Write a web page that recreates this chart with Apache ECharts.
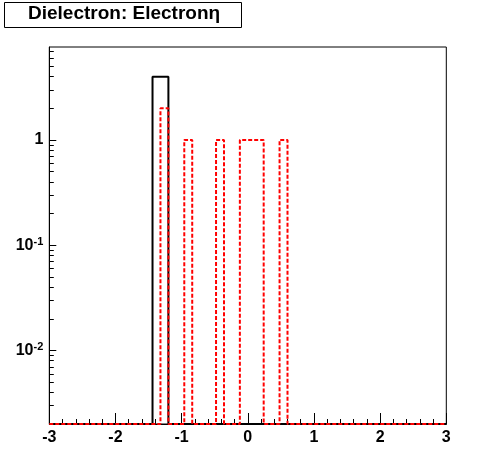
<!DOCTYPE html>
<html>
<head>
<meta charset="utf-8">
<script src="https://cdn.jsdelivr.net/npm/echarts@6/dist/echarts.min.js"></script>
<style>
html,body{margin:0;padding:0;background:#fff;}
#chart{width:496px;height:472px;}
</style>
</head>
<body>
<div id="chart"></div>
<script>
// ---- data ----
const titleText = 'Dielectron: Electronη';
const xMin = -3, xMax = 3;
const yMin = 0.002, yMax = 7.66;
const xTicks = [-3, -2, -1, 0, 1, 2, 3];
const yMajorTicks = [0.01, 0.1, 1];
const yMinorTicks = [0.002,0.003,0.004,0.005,0.006,0.007,0.008,0.009,
                     0.02,0.03,0.04,0.05,0.06,0.07,0.08,0.09,
                     0.2,0.3,0.4,0.5,0.6,0.7,0.8,0.9,
                     2,3,4,5,6,7];
// 50 bins from -3 to 3
const blackCounts = [0,0,0,0,0,0,0,0,0,0,
                     0,0,0,4,4,0,0,0,0,0,
                     0,0,0,0,0,0,0,0,0,0,
                     0,0,0,0,0,0,0,0,0,0,
                     0,0,0,0,0,0,0,0,0,0];
const redCounts   = [0,0,0,0,0,0,0,0,0,0,
                     0,0,0,0,2,0,0,1,0,0,
                     0,1,0,0,1,1,1,0,0,1,
                     0,0,0,0,0,0,0,0,0,0,
                     0,0,0,0,0,0,0,0,0,0];

function outline(counts) {
  const pts = [];
  const w = (xMax - xMin) / counts.length;
  counts.forEach((c, i) => {
    const v = c > 0 ? c : yMin;
    pts.push([xMin + i * w, v], [xMin + (i + 1) * w, v]);
  });
  return pts;
}

const FONT = 'Liberation Sans, Arial, sans-serif';
const chart = echarts.init(document.getElementById('chart'), null, {renderer: 'canvas'});

function yFmt(v) {
  const e = Math.round(Math.log10(v));
  return e === 0 ? '1' : '10{s|' + e + '}';
}

chart.setOption({
  animation: false,
  backgroundColor: '#fff',
  grid: {left: 49.3, right: 49.7, top: 47, bottom: 48, show: true,
         borderColor: '#000', borderWidth: 1, backgroundColor: 'transparent'},
  xAxis: {
    type: 'value', min: xMin, max: xMax, interval: 1,
    axisLine: {show: true, onZero: false, lineStyle: {color: '#000', width: 1}},
    axisTick: {show: true, inside: true, length: 11, lineStyle: {color: '#000'}},
    minorTick: {show: true, splitNumber: 5, length: 5, lineStyle: {color: '#000'}},
    splitLine: {show: false},
    axisLabel: {color: '#000', fontFamily: FONT, fontWeight: 'bold', fontSize: 16, margin: 6,
                customValues: xTicks,
                formatter: v => String(v)}
  },
  yAxis: [{
    type: 'log', min: yMin, max: yMax, logBase: 10, position: 'left',
    axisLine: {show: true, onZero: false, lineStyle: {color: '#000', width: 1}},
    axisTick: {show: true, inside: true, length: 7, customValues: yMajorTicks, lineStyle: {color: '#000'}},
    splitLine: {show: false},
    axisLabel: {color: '#000', fontFamily: FONT, fontWeight: 'bold', fontSize: 16, margin: 6,
                customValues: yMajorTicks, formatter: yFmt,
                rich: {s: {fontFamily: FONT, fontWeight: 'bold', fontSize: 11, color: '#000',
                           verticalAlign: 'top', padding: [0, 0, 7, 0]}}}
  }, {
    type: 'log', min: yMin, max: yMax, logBase: 10, position: 'left',
    axisLine: {show: false, onZero: false},
    axisTick: {show: true, inside: true, length: 4.5, customValues: yMinorTicks, lineStyle: {color: '#000'}},
    axisLabel: {show: false},
    splitLine: {show: false}
  }],
  series: [{
    type: 'line', data: outline(blackCounts), yAxisIndex: 0,
    showSymbol: false, clip: false,
    lineStyle: {color: '#000', width: 2}, z: 2
  }, {
    type: 'line', data: outline(redCounts), yAxisIndex: 0,
    showSymbol: false, clip: false,
    lineStyle: {color: '#ff0000', width: 2, type: [4, 2]}, z: 3
  }],
  graphic: [{
    type: 'rect', left: 4, top: 2,
    shape: {width: 237, height: 25},
    style: {fill: '#fff', stroke: '#000', lineWidth: 1}
  }, {
    type: 'text', left: 28, top: 4,
    style: {text: titleText, fill: '#000', font: 'bold 19px ' + FONT}
  }]
});
</script>
</body>
</html>
